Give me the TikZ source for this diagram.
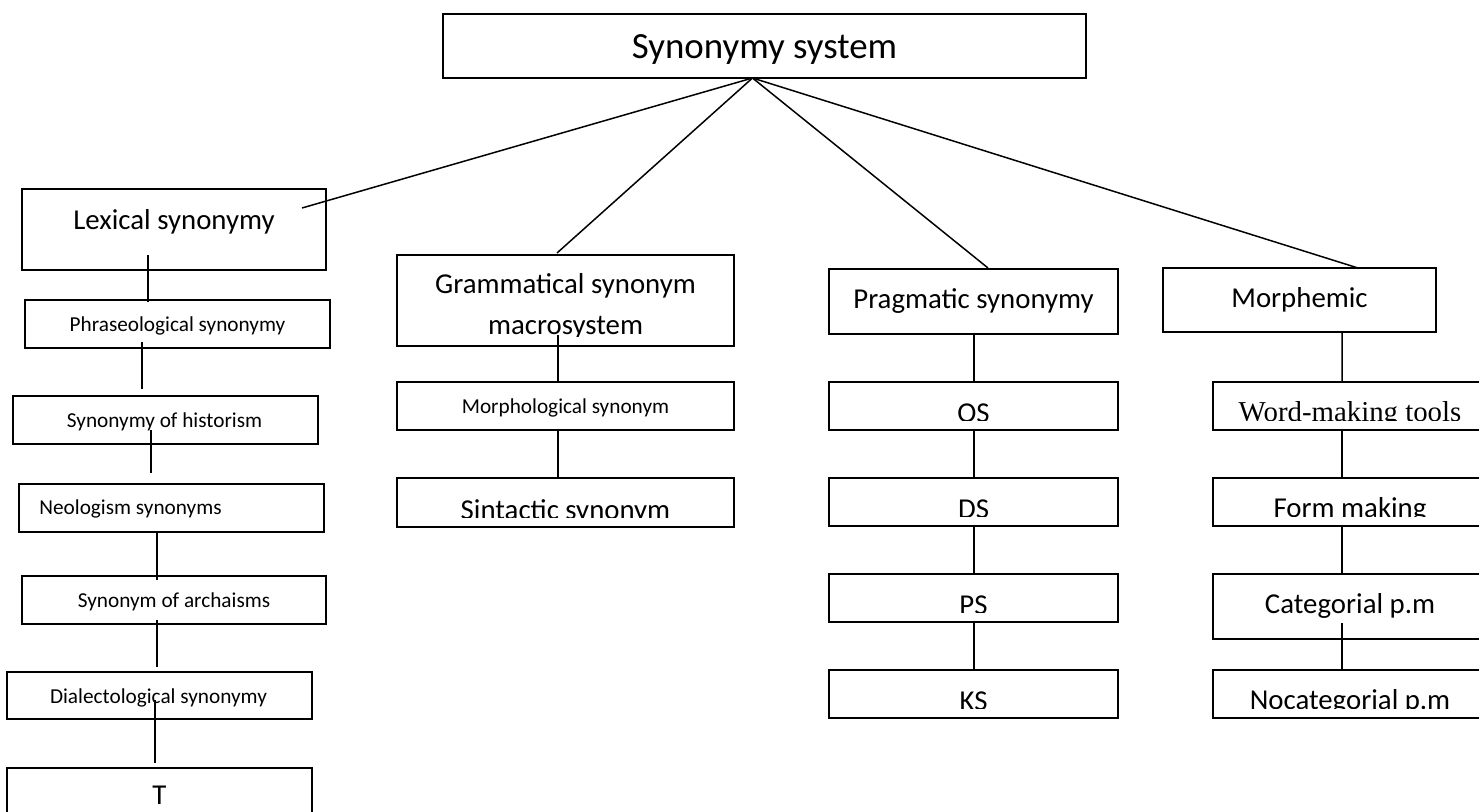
\documentclass[tikz,border=0pt]{standalone}
\usepackage{fontspec}
\setmainfont{Carlito}
\newfontfamily\timesfont{Liberation Serif}
\usetikzlibrary{calc,fit}

\newcommand{\toptxt}{\fontsize{21}{25}\selectfont}
\newcommand{\bigtxt}{\fontsize{16.4}{20}\selectfont}
\newcommand{\smalltxt}{\fontsize{12.1}{15}\selectfont}

\tikzset{
  box/.style={draw, line width=1.1pt, inner sep=0pt, outer sep=0pt},
  wire/.style={line width=0.85pt},
  intext/.style n args={3}{path picture={
    \clip (path picture bounding box.north west) rectangle ($(path picture bounding box.south east)+(0,-10)$);
    \node[draw=none, font=#1, anchor=base, inner sep=0pt] at ($(path picture bounding box.south)+(#2)$) {#3};
  }},
}

\begin{document}
\begin{tikzpicture}[x=0.02cm, y=-0.02cm]

        \clip (0,0) rectangle (1479,811);

        %Top
        \node[box, fit={(443,14) (1086,78)}, intext={\toptxt}{0,-19}{Synonymy system}] (sys) {};
        \coordinate (hub) at ($(sys.south)+(-12,0)$);

        %Lexical
        \node[box, fit={(22,189) (326,270)}, intext={\bigtxt}{0,-41}{Lexical synonymy}] (lex) {};
        \node[box, fit={(25,300) (330,348)}, intext={\smalltxt}{0,-17}{Phraseological synonymy}] (phr) {};
        \node[box, fit={(13,396) (318,444)}, intext={\smalltxt}{-1,-17}{Synonymy of historism}] (his) {};
        \node[box, fit={(19,484) (324,532)}, intext={\smalltxt}{-41,-18}{Neologism synonyms}] (neo) {};
        \node[box, fit={(22,576) (326,624)}, intext={\smalltxt}{0,-17}{Synonym of archaisms}] (arc) {};
        \node[box, fit={(7,672) (312,719)}, intext={\smalltxt}{-1,-16}{Dialectological synonymy}] (dia) {};
        \node[box, fit={(7,768) (312,830)}, intext={\bigtxt}{0,-26}{T}] (tee) {};

        %Grammatical
        \node[box, fit={(397,255) (734,346)}, path picture={
          \clip (path picture bounding box.north west) rectangle ($(path picture bounding box.south east)+(0,-10)$);
          \node[draw=none, font=\bigtxt, anchor=base, inner sep=0pt] at ($(path picture bounding box.south)+(0,-53)$) {Grammatical synonym};
          \node[draw=none, font=\bigtxt, anchor=base, inner sep=0pt] at ($(path picture bounding box.south)+(0,-12)$) {macrosystem};
        }] (gra) {};
        \node[box, fit={(397,382) (734,430)}, intext={\smalltxt}{0,-17}{Morphological synonym}] (msy) {};
        \node[box, fit={(397,478) (734,527)}, intext={\bigtxt}{0,-8}{Sintactic synonym}] (sin) {};

        %Pragmatic
        \node[box, fit={(829,269) (1118,334)}, intext={\bigtxt}{0,-26}{Pragmatic synonymy}] (pra) {};
        \node[box, fit={(829,382) (1118,430)}, intext={\bigtxt}{0,-8}{OS}] (os) {};
        \node[box, fit={(829,478) (1118,526)}, intext={\bigtxt}{0,-8}{DS}] (ds) {};
        \node[box, fit={(829,574) (1118,622)}, intext={\bigtxt}{0,-8}{PS}] (ps) {};
        \node[box, fit={(829,670) (1118,718)}, intext={\bigtxt}{0,-8}{KS}] (ks) {};

        %Morphemic
        \node[box, fit={(1163,268) (1436,332)}, intext={\bigtxt}{0,-25}{Morphemic}] (mph) {};
        \node[box, fit={(1213,382) (1487,430)}, intext={\timesfont\bigtxt}{0,-9}{Word-making tools}] (wmt) {};
        \node[box, fit={(1213,478) (1487,526)}, intext={\bigtxt}{0,-9}{Form making}] (frm) {};
        \node[box, fit={(1213,574) (1487,639)}, intext={\bigtxt}{0,-26}{Categorial p.m}] (cat) {};
        \node[box, fit={(1213,670) (1487,718)}, intext={\bigtxt}{0,-9}{Nocategorial p.m}] (noc) {};

        %Branches
        \draw[wire] (hub) -- ($(lex.north east)+(-24,19)$);
        \draw[wire] (hub) -- ($(gra.north)+(-8.5,-2)$);
        \draw[wire] (hub) -- ($(pra.north)+(14.5,-1)$);
        \draw[wire] (hub) -- ($(mph.north)+(58.5,0)$);

        %Lexical links
        \draw[wire] ($(lex.south)+(-26,-15)$) -- ($(phr.north)+(-29.5,2)$);
        \draw[wire] ($(phr.south)+(-35.5,-6)$) -- ($(his.north)+(-23.5,-7)$);
        \draw[wire] ($(his.south)+(-14.5,-14)$) -- ($(neo.north)+(-20.5,-11)$);
        \draw[wire] ($(neo.south)+(-14.5,0)$) -- ($(arc.north)+(-17,4)$);
        \draw[wire] ($(arc.south)+(-17,-4)$) -- ($(dia.north)+(-2.5,-5)$);
        \draw[wire] ($(dia.south)+(-4.5,-19)$) -- ($(tee.north)+(-4.5,-5)$);

        %Grammatical links
        \draw[wire] ($(gra.south)+(-7.5,-11)$) -- ($(msy.north)+(-7.5,0)$);
        \draw[wire] ($(msy.south)+(-7.5,0)$) -- ($(sin.north)+(-7.5,0)$);

        %Pragmatic links
        \draw[wire] ($(pra.south)+(0.5,0)$) -- ($(os.north)+(0.5,0)$);
        \draw[wire] ($(os.south)+(0.5,0)$) -- ($(ds.north)+(0.5,0)$);
        \draw[wire] ($(ds.south)+(0.5,0)$) -- ($(ps.north)+(0.5,0)$);
        \draw[wire] ($(ps.south)+(0.5,0)$) -- ($(ks.north)+(0.5,0)$);

        %Morphemic links
        \draw[wire] ($(mph.south)+(42.5,0)$) -- ($(wmt.north)+(-8,0)$);
        \draw[wire] ($(wmt.south)+(-8,0)$) -- ($(frm.north)+(-8,0)$);
        \draw[wire] ($(frm.south)+(-8,0)$) -- ($(cat.north)+(-8,0)$);
        \draw[wire] ($(cat.south)+(-8,-16)$) -- ($(noc.north)+(-8,0)$);

\end{tikzpicture}
\end{document}
